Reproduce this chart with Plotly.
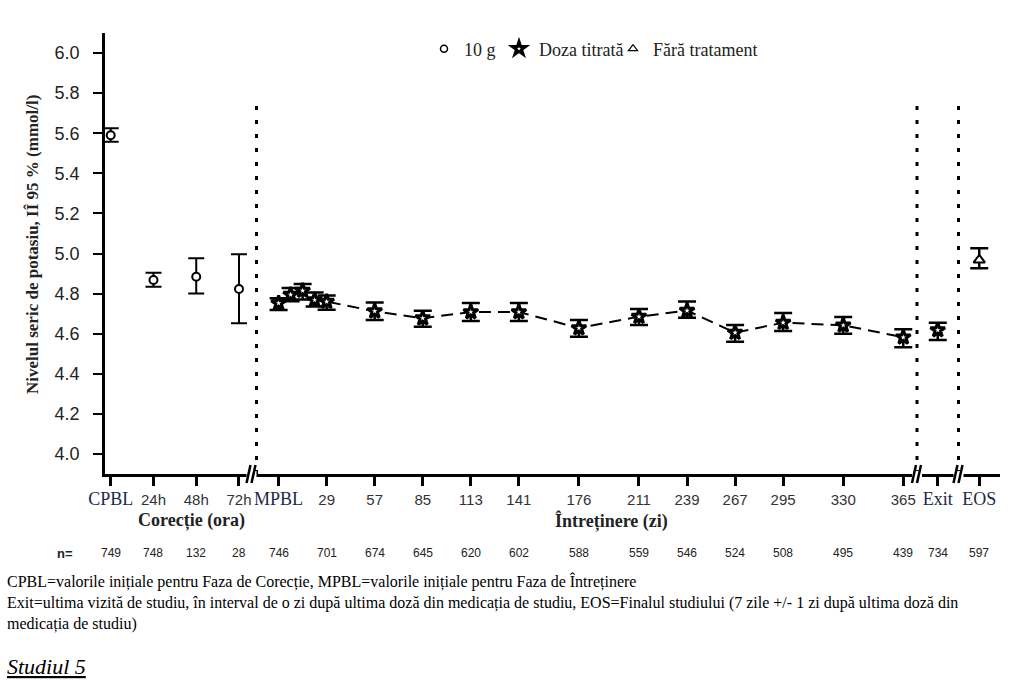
import plotly.graph_objects as go

# ---------------- data ----------------
corr_hours = [0, 24, 48, 72]
corr_labels = ["CPBL", "24h", "48h", "72h"]
corr_mean = [5.590, 4.868, 4.884, 4.823]
corr_lo = [5.558, 4.834, 4.800, 4.652]
corr_hi = [5.625, 4.904, 4.976, 4.996]
corr_n = [749, 748, 132, 28]

maint_days = [1, 8, 15, 22, 29, 57, 85, 113, 141, 176, 211, 239, 267, 295, 330, 365]
maint_mean = [4.752, 4.795, 4.815, 4.768, 4.760, 4.712, 4.677, 4.708, 4.708, 4.628,
              4.685, 4.715, 4.605, 4.655, 4.642, 4.582]
maint_lo = [4.718, 4.762, 4.770, 4.735, 4.720, 4.668, 4.635, 4.663, 4.663, 4.585,
            4.643, 4.680, 4.560, 4.613, 4.600, 4.532]
maint_hi = [4.777, 4.828, 4.848, 4.805, 4.790, 4.755, 4.715, 4.753, 4.753, 4.668,
            4.723, 4.760, 4.643, 4.703, 4.683, 4.622]
maint_ticks = [1, 29, 57, 85, 113, 141, 176, 211, 239, 267, 295, 330, 365]
maint_labels = ["MPBL", "29", "57", "85", "113", "141", "176", "211", "239", "267",
                "295", "330", "365"]
maint_n = [746, 701, 674, 645, 620, 602, 588, 559, 546, 524, 508, 495, 439]

exit_label = "Exit"
exit_mean = [4.618]
exit_lo = [4.569]
exit_hi = [4.655]
exit_n = 734

eos_label = "EOS"
eos_mean = [4.968]
eos_lo = [4.926]
eos_hi = [5.026]
eos_n = 597

legend_names = ["10 g", "Doza titrată", "Fără tratament"]

y_ticks = [4.0, 4.2, 4.4, 4.6, 4.8, 5.0, 5.2, 5.4, 5.6, 5.8, 6.0]

footnote = ("CPBL=valorile inițiale pentru Faza de Corecție, MPBL=valorile inițiale pentru Faza de Întreținere<br>"
            "Exit=ultima vizită de studiu, în interval de o zi după ultima doză din medicația de studiu, "
            "EOS=Finalul studiului (7 zile +/- 1 zi după ultima doză din<br>"
            "medicația de studiu)")

# ---------------- style ----------------
SERIF = "Liberation Serif, Times New Roman, serif"
SANS = "Liberation Sans, Arial, sans-serif"
NAVY = "#1c2a48"
DARK = "#222222"


def serif_lbl(t):
    return f'<span style="font-family:{SERIF};font-size:18px;fill:{NAVY}">{t}</span>'


def err(mean, lo, hi, thick, w):
    return dict(type="data", symmetric=False,
                array=[h - m for m, h in zip(mean, hi)],
                arrayminus=[m - l for m, l in zip(mean, lo)],
                color="black", thickness=thick, width=w)


circle_marker = dict(symbol="circle", size=8, color="white", line=dict(color="black", width=2))
star_marker = dict(symbol="star", size=11, color="white", line=dict(color="black", width=3))
tri_marker = dict(symbol="triangle-up", size=10, color="white", line=dict(color="black", width=2))

fig = go.Figure()

fig.add_trace(go.Scatter(x=corr_hours, y=corr_mean, mode="markers", marker=circle_marker,
                         error_y=err(corr_mean, corr_lo, corr_hi, 2, 8),
                         xaxis="x", yaxis="y", showlegend=False))
fig.add_trace(go.Scatter(x=maint_days, y=maint_mean, mode="lines+markers", marker=star_marker,
                         line=dict(color="black", width=2, dash="12px,7px"),
                         error_y=err(maint_mean, maint_lo, maint_hi, 2.5, 9),
                         xaxis="x2", yaxis="y", showlegend=False))
fig.add_trace(go.Scatter(x=[0], y=exit_mean, mode="markers", marker=star_marker,
                         error_y=err(exit_mean, exit_lo, exit_hi, 2.5, 9),
                         xaxis="x3", yaxis="y", showlegend=False))
fig.add_trace(go.Scatter(x=[0], y=eos_mean, mode="markers", marker=tri_marker,
                         error_y=err(eos_mean, eos_lo, eos_hi, 2.5, 9),
                         xaxis="x4", yaxis="y", showlegend=False))

# legend-only entries, each in its own legend box
legend_markers = [dict(circle_marker, size=7, line=dict(color="black", width=1.5)),
                  dict(star_marker, size=10, line=dict(color="black", width=3)),
                  dict(tri_marker, size=8, line=dict(color="black", width=1.2))]
legend_ids = ["legend", "legend2", "legend3"]
for name, mk, lid in zip(legend_names, legend_markers, legend_ids):
    fig.add_trace(go.Scatter(x=[None], y=[None], mode="markers", marker=mk, name=name,
                             xaxis="x", yaxis="y", legend=lid, showlegend=True))

# ---------------- geometry ----------------
L, R, T, B = 105, 33, 33, 212
W, H = 1033, 686
PW, PH = W - L - R, H - T - B


def px_x(px):
    return (px - L) / PW


def px_y(py):
    return (H - B - py) / PH


d1 = px_x(252)
d2 = px_x(917)
d3 = px_x(958.5)

common_x = dict(showline=True, linecolor="black", linewidth=2.5, ticks="outside", ticklen=9,
                tickwidth=2.5, tickcolor="black", showgrid=False, zeroline=False,
                tickfont=dict(family=SANS, size=15, color="#333333"), anchor="y",
                ticklabelstandoff=1, fixedrange=True)


def legend_box(left_px):
    return dict(orientation="h", x=px_x(left_px), y=px_y(49), xanchor="left", yanchor="middle",
                font=dict(family=SERIF, size=18, color=DARK), bgcolor="rgba(0,0,0,0)",
                itemwidth=30, tracegroupgap=0)


fig.update_layout(
    width=W, height=H, margin=dict(l=L, r=R, t=T, b=B),
    paper_bgcolor="white", plot_bgcolor="white",
    xaxis=dict(common_x, domain=[0, d1], range=[-3.2, 79.3], tickvals=corr_hours,
               ticktext=[serif_lbl(corr_labels[0])] + corr_labels[1:]),
    xaxis2=dict(common_x, domain=[d1, d2], range=[-14.5, 373.0], tickvals=maint_ticks,
                ticktext=[serif_lbl(maint_labels[0])] + maint_labels[1:]),
    xaxis3=dict(common_x, domain=[d2, d3], range=[-1, 1], tickvals=[0],
                ticktext=[serif_lbl(exit_label)]),
    xaxis4=dict(common_x, domain=[d3, 1], range=[-1, 1], tickvals=[0],
                ticktext=[serif_lbl(eos_label)]),
    yaxis=dict(domain=[0, 1], range=[3.9, 6.1], tickvals=y_ticks,
               ticktext=[f"{v:.1f}" for v in y_ticks], anchor="x",
               showline=True, linecolor="black", linewidth=2.5, ticks="outside", ticklen=9,
               tickwidth=2, tickcolor="black", showgrid=False, zeroline=False,
               tickfont=dict(family=SANS, size=18, color=DARK), ticklabelstandoff=10),
    legend=legend_box(424),
    legend2=legend_box(499),
    legend3=legend_box(613),
    showlegend=True,
)

shapes = []
# vertical dotted separators
for xp in [px_x(256.5), d2, d3]:
    shapes.append(dict(type="line", xref="paper", yref="paper", x0=xp, x1=xp, y0=0, y1=px_y(96),
                       line=dict(color="black", width=3, dash="4px,10px"), layer="above"))
# axis break marks
for xp in [px_x(251.5), d2, d3]:
    shapes.append(dict(type="rect", xref="paper", yref="paper", xsizemode="pixel", ysizemode="pixel",
                       xanchor=xp, yanchor=0, x0=-5, x1=5, y0=-3, y1=3,
                       fillcolor="white", line=dict(width=0), layer="above"))
    for off in (-5, 0):
        shapes.append(dict(type="line", xref="paper", yref="paper", xsizemode="pixel",
                           ysizemode="pixel", xanchor=xp, yanchor=0,
                           x0=off, x1=off + 4, y0=-9, y1=9,
                           line=dict(color="black", width=2.5), layer="above"))
fig.update_layout(shapes=shapes)

ann = []
ann.append(dict(text="<b>Nivelul seric de potasiu, IÎ 95 % (mmol/l)</b>", textangle=-90,
                xref="paper", yref="paper", x=px_x(32), y=px_y(245), xanchor="center",
                yanchor="middle", showarrow=False,
                font=dict(family=SERIF, size=17, color=DARK)))
ann.append(dict(text="<b>Corecție (ora)</b>", xref="x", yref="paper", x=45.6, y=px_y(520),
                xanchor="center", yanchor="middle",
                showarrow=False, font=dict(family=SERIF, size=18, color=DARK)))
ann.append(dict(text="<b>Întreținere (zi)</b>", xref="x2", yref="paper", x=194.7, y=px_y(521),
                xanchor="center", yanchor="middle",
                showarrow=False, font=dict(family=SERIF, size=18, color=DARK)))
nfont = dict(family=SANS, size=12, color=DARK)
ny = px_y(553)
ann.append(dict(text="<b>n=</b>", xref="paper", yref="paper", x=px_x(65), y=ny, showarrow=False,
                xanchor="center", yanchor="middle", font=dict(family=SANS, size=13, color=DARK)))
for xv, nv in zip(corr_hours, corr_n):
    ann.append(dict(text=str(nv), xref="x", yref="paper", x=xv, y=ny, showarrow=False,
                    xanchor="center", yanchor="middle", font=nfont))
for xv, nv in zip(maint_ticks, maint_n):
    ann.append(dict(text=str(nv), xref="x2", yref="paper", x=xv, y=ny, showarrow=False,
                    xanchor="center", yanchor="middle", font=nfont))
ann.append(dict(text=str(exit_n), xref="x3", yref="paper", x=0, y=ny, showarrow=False,
                xanchor="center", yanchor="middle", font=nfont))
ann.append(dict(text=str(eos_n), xref="x4", yref="paper", x=0, y=ny, showarrow=False,
                xanchor="center", yanchor="middle", font=nfont))
ann.append(dict(text=footnote, xref="paper", yref="paper", x=px_x(5), y=px_y(602), xanchor="left",
                yanchor="middle", align="left", showarrow=False,
                font=dict(family=SERIF, size=16, color="black")))
ann.append(dict(text="<i><u>Studiul 5</u></i>", xref="paper", yref="paper", x=px_x(5), y=px_y(666),
                xanchor="left", yanchor="middle", showarrow=False,
                font=dict(family=SERIF, size=22, color="black")))
fig.update_layout(annotations=ann)

fig.write_html("out.html")
